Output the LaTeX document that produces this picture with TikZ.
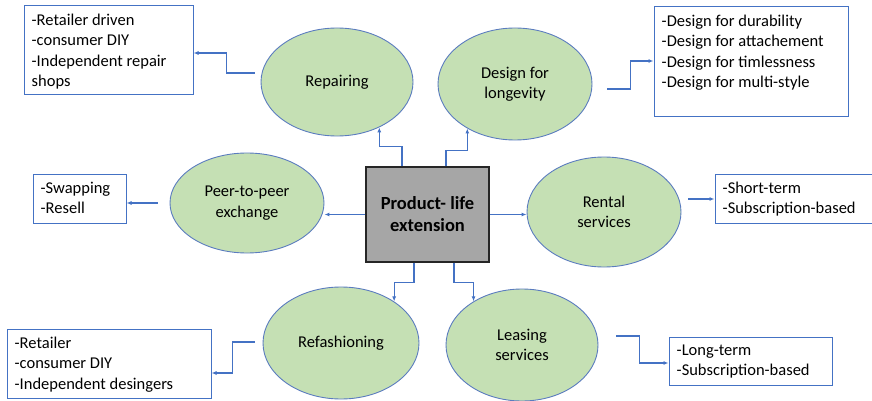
\documentclass[tikz,border=0pt]{standalone}
\usepackage{fontspec}
\setmainfont{Carlito}
\usetikzlibrary{shapes.geometric,arrows.meta,calc}
\definecolor{linkblue}{HTML}{4472C4}
\definecolor{ovalline}{HTML}{5B7CBF}
\definecolor{leaf}{HTML}{C5E0B4}
\definecolor{hub}{HTML}{A6A6A6}
\begin{document}
\begin{tikzpicture}[x=1pt,y=-1pt,
  every node/.style={font=\fontsize{16.5}{20.5}\selectfont},
  hubbox/.style={rectangle, draw=black!85, fill=hub, line width=1.3pt,
    minimum width=123pt, minimum height=95pt, inner sep=0pt, align=center,
    font=\fontsize{18.5}{22}\selectfont\bfseries},
  oval/.style={ellipse, draw=ovalline, fill=leaf, line width=0.9pt,
    inner sep=0pt, align=center},
  listbox/.style={rectangle, draw=linkblue, line width=1pt, fill=white, inner sep=0pt},
  items/.style={anchor=north west, inner sep=0pt, align=left, xshift=8pt, yshift=-8pt},
  conn/.style={draw=linkblue, line width=1.2pt, -{Latex[length=5pt,width=4pt]}},
]
\useasboundingbox (0,0) rectangle (872,401);

% hub
\node[hubbox] (c) at (427.5,214.5) {Product- life\\extension};

% strategies
\node[oval, minimum width=152pt, minimum height=108pt] (rep) at (337,82) {Repairing};
\node[oval, minimum width=154pt, minimum height=112pt] (des) at (515,84) {Design for\\longevity};
\node[oval, minimum width=154pt, minimum height=100pt] (p2p) at (247,203) {Peer-to-peer\\exchange};
\node[oval, minimum width=154pt, minimum height=110pt] (ren) at (604,212) {Rental\\services};
\node[oval, minimum width=156pt, minimum height=112pt] (ref) at (341,343) {Refashioning};
\node[oval, minimum width=152pt, minimum height=112pt] (lea) at (522,345) {Leasing\\services};

% detail lists
\node[listbox, minimum width=169pt, minimum height=89pt,
  label={[items]north west:{-Retailer driven\\-consumer DIY\\-Independent repair\\shops}}]
  (rbx) at (108.5,50.5) {};
\node[listbox, minimum width=194pt, minimum height=110pt,
  label={[items]north west:{-Design for durability\\-Design for attachement\\-Design for timlessness\\-Design for multi-style}}]
  (dbx) at (751,62) {};
\node[listbox, minimum width=93pt, minimum height=49pt,
  label={[items]north west:{-Swapping\\-Resell}}]
  (sbx) at (79.5,198.5) {};
\node[listbox, minimum width=160pt, minimum height=49pt,
  label={[items]north west:{-Short-term\\-Subscription-based}}]
  (rtb) at (795,198.5) {};
\node[listbox, minimum width=204pt, minimum height=69pt,
  label={[items]north west:{-Retailer\\-consumer DIY\\-Independent desingers}}]
  (fbx) at (109,363.5) {};
\node[listbox, minimum width=163pt, minimum height=48pt,
  label={[items]north west:{-Long-term\\-Subscription-based}}]
  (lbx) at (750.5,361) {};

% hub to strategies
\draw[conn] ([xshift=-25.5pt]c.north) |- ($(rep.-47)+(0,19)$) -- (rep.-47);
\draw[conn] ([xshift=18.5pt]c.north) |- ($(des.223)+(0,22)$) -- (des.223);
\draw[conn] ([xshift=-13.5pt]c.south) |- ($(ref.38)+(0,-19)$) -- (ref.38);
\draw[conn] ([xshift=26.5pt]c.south) |- ($(lea.138)+(0,-19)$) -- (lea.138);
\draw[conn] (c.west) -- (c.west -| p2p.east);
\draw[conn] (c.east) -- (c.east -| ren.west);

% strategies to lists
\draw[conn] ([xshift=-12pt]p2p.west) -- (p2p.west -| sbx.east);
\coordinate (r1) at ($(ren.east)+(7,-13)$);
\draw[conn] (r1) -- (r1 -| rtb.west);
\draw[conn] ($(rep.west)+(-6,-9)$) -| ($(rbx.east)+(33,2.5)$) -- ($(rbx.east)+(0,2.5)$);
\draw[conn] ($(des.east)+(15,5)$) -| ($(dbx.west)+(-23,-1)$) -- ($(dbx.west)+(0,-1)$);
\draw[conn] ($(ref.west)+(-8,-1)$) -| ($(fbx.east)+(21,9.5)$) -- ($(fbx.east)+(0,9.5)$);
\draw[conn] ($(lea.east)+(18,-9)$) -| ($(lbx.west)+(-29,2)$) -- ($(lbx.west)+(0,2)$);
\end{tikzpicture}
\end{document}
